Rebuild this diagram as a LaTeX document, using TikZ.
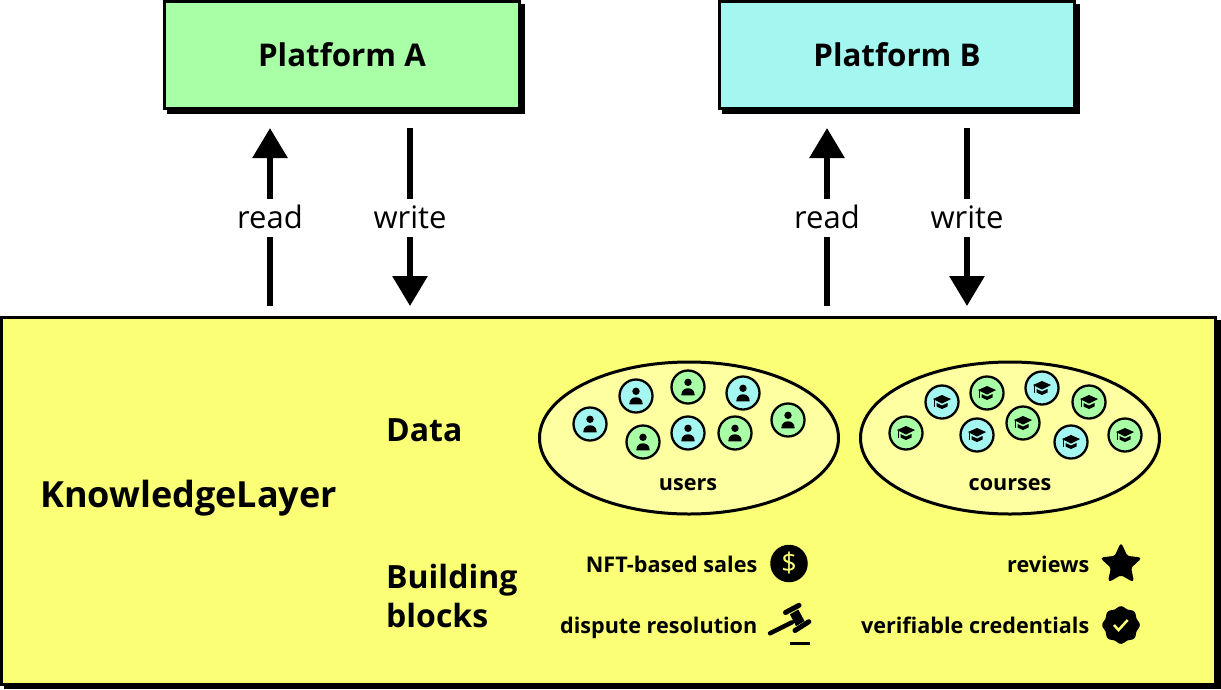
\documentclass[tikz,border=0pt]{standalone}
\usepackage{fontspec}
\setmainfont{Open Sans}
\usetikzlibrary{positioning, arrows.meta, shapes.geometric}
\definecolor{platgreen}{RGB}{168,255,165}
\definecolor{platcyan}{RGB}{163,247,240}
\definecolor{layeryellow}{RGB}{250,255,117}
\definecolor{palefill}{RGB}{253,255,160}

\begin{document}
\begin{tikzpicture}[
  x=1pt, y=-1pt,
  platform/.style={draw, line width=3pt, minimum width=355pt, minimum height=107pt, font=\fontsize{31.3}{36}\selectfont\bfseries},
  shadow/.style={fill=black},
  flow/.style={line width=6pt, -{Triangle[width=34pt, length=30pt]}},
  rw/.style={fill=white, inner sep=0pt, minimum width=40pt, minimum height=38pt, text height=22pt, text depth=0pt, font=\fontsize{31}{36}\selectfont},
  head/.style={font=\fontsize{32}{39}\selectfont\bfseries, anchor=base west, align=left, inner sep=0pt},
  pool/.style={draw, ellipse, line width=3pt, fill=palefill, minimum width=299pt, minimum height=152pt, inner sep=0pt},
  poolname/.style={font=\fontsize{21.6}{24}\selectfont\bfseries, anchor=base, inner sep=0pt},
  feat/.style={font=\fontsize{21.6}{24}\selectfont\bfseries, anchor=base east, inner sep=0pt},
  dot/.style={draw, circle, line width=2.3pt, minimum size=33pt, inner sep=0pt},
  person/.pic={
    \fill (0,-4.7) circle (3.7pt);
    \fill (-6.7,8.3) .. controls (-6.7,3.2) and (-3.5,1.3) .. (0,1.3) .. controls (3.5,1.3) and (6.7,3.2) .. (6.7,8.3) -- cycle;
  },
  gradcap/.pic={
    \fill (-9,-3) -- (0,-7) -- (9,-3) -- (0,1.5) -- cycle;
    \fill (-5.5,1) -- (0,3.5) -- (5.5,1) -- (5.5,4.5) -- (0,7) -- (-5.5,4.5) -- cycle;
    \fill (-7.8,-2) rectangle (-6.8,5);
  }
]
\useasboundingbox (0,0) rectangle (1221,689);

% --- platforms ---
\fill[shadow] (167,4) rectangle (525,114);
\fill[shadow] (722,4) rectangle (1080,114);
\node[platform, fill=platgreen] (platA) at (342,55) {Platform A};
\node[platform, fill=platcyan]  (platB) at (897,55) {Platform B};

% --- layer box ---
\fill[shadow] (4,320) rectangle (1221,689);
\node[draw, line width=3pt, fill=layeryellow, minimum width=1214pt, minimum height=366.5pt, inner sep=0pt] (layer) at (608.3,500.8) {};

% --- read / write ---
\coordinate (readA) at (270,0);
\coordinate (writeA) at (410,0);
\coordinate (readB) at (827,0);
\coordinate (writeB) at (967,0);
\draw[flow, shorten <=10pt, shorten >=18pt] (layer.north-|readA) -- node[rw, pos=.476] (lblra) {read} (platA.south-|readA);
\draw[flow, shorten <=18pt, shorten >=10pt] (platA.south-|writeA) -- node[rw, pos=.524] (lblwa) {write} (layer.north-|writeA);
\draw[flow, shorten <=10pt, shorten >=18pt] (layer.north-|readB) -- node[rw, pos=.476] (lblrb) {read} (platB.south-|readB);
\draw[flow, shorten <=18pt, shorten >=10pt] (platB.south-|writeB) -- node[rw, pos=.524] (lblwb) {write} (layer.north-|writeB);

% --- headings ---
\node[head, font=\fontsize{36}{42}\selectfont\bfseries] (klname) at (40,507.5) {KnowledgeLayer};
\node[head] (data) at (386,441.5) {Data};
\node[head, anchor=west] (blocks) at (386,595.5) {Building\\blocks};

% --- data pools ---
\node[pool] (users) at (689,438) {};
\node[pool] (courses) at (1010,438) {};
\node[poolname] (userlbl) at (688,490.5) {users};
\node[poolname] (courselbl) at (1010,490.5) {courses};

\foreach \px/\py/\col [count=\i] in {590/424/platcyan, 636/396/platcyan, 688/387/platgreen, 743/393/platcyan, 788/420/platgreen, 643/442/platgreen, 688/433/platcyan, 735/433/platgreen}
  \node[dot, fill=\col] (u\i) at (\px,\py) {} pic at (\px,\py) {person};

\foreach \px/\py/\col [count=\i] in {906/433/platgreen, 942/402/platcyan, 987/393/platgreen, 1042/388/platcyan, 1089/402/platgreen, 1023/423/platgreen, 977/435/platcyan, 1071/442/platcyan, 1125/435/platgreen}
  \node[dot, fill=\col] (c\i) at (\px,\py) {} pic at (\px,\py) {gradcap};

% --- building blocks ---
\node[feat] (nft) at (757.5,572.3) {NFT-based sales};
\node[feat] (dispute) at (757.5,633.8) {dispute resolution};
\node[feat] (reviews) at (1089.5,572.3) {reviews};
\node[feat] (vc) at (1089.5,633.8) {verifiable credentials};

\node[circle, fill=black, text=layeryellow, minimum size=37.5pt, inner sep=0pt, font=\fontsize{27}{30}\selectfont] (dollar) at (789,563.5) {\$};
\node[star, star points=5, star point ratio=2.1, fill=black, draw, line width=2pt, rounded corners=2pt, minimum size=40pt, inner sep=0pt] (starico) at (1121,564.5) {};

% gavel
\draw[line width=5pt, line cap=round] (785.5,612.5) -- (799,605.3);
\draw[line width=5pt, line cap=round] (795,630.5) -- (808.8,621.7);
\fill (790,614.3) -- (798.3,609.5) -- (804.5,621) -- (796,626.2) -- cycle;
\draw[line width=4.4pt, line cap=round] (770,633.3) -- (792,622.3);
\draw[line width=3.5pt] (789.5,643.3) -- (810,643.3);

% badge
\fill plot[smooth cycle, samples=73, domain=0:355] ({1121+(17.8+1*cos(8*\x))*cos(\x)}, {625+(17.8+1*cos(8*\x))*sin(\x)});
\draw[layeryellow, line width=2.5pt] (1114,625) -- (1118.5,630) -- (1127.7,620);
\end{tikzpicture}
\end{document}
